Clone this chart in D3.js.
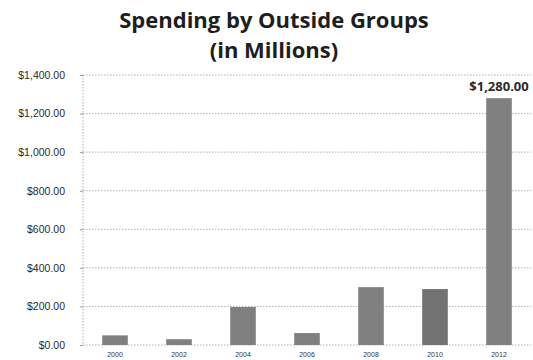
<!DOCTYPE html>
<html>
<head>
<meta charset="utf-8">
<script src="https://cdn.jsdelivr.net/npm/d3@7"></script>
<style>
  body { margin: 0; background: #fff; }
  svg { display: block; }
</style>
</head>
<body>
<div id="chart"></div>
<script>
var years = ['2000', '2002', '2004', '2006', '2008', '2010', '2012'];
var spending = [50, 30, 197, 62, 300, 290, 1280];
var yTicks = [0, 200, 400, 600, 800, 1000, 1200, 1400];
var titleLines = ['Spending by Outside Groups', '(in Millions)'];

var width = 533, height = 360;
var margin = {left: 83, right: 2, top: 75, bottom: 15};

var svg = d3.select('#chart').append('svg')
  .attr('width', width)
  .attr('height', height);

var x = d3.scaleBand()
  .domain(years)
  .range([margin.left, width - margin.right])
  .paddingInner(0.6)
  .paddingOuter(0.3);

var y = d3.scaleLinear()
  .domain([0, 1400])
  .range([height - margin.bottom, margin.top]);

function money(v) {
  return '$' + d3.format(',.2f')(v);
}

// gridlines
svg.append('g')
  .selectAll('line')
  .data(yTicks)
  .enter().append('line')
  .attr('x1', margin.left)
  .attr('x2', width - margin.right)
  .attr('y1', function(d){ return y(d); })
  .attr('y2', function(d){ return y(d); })
  .attr('stroke', '#9a9a9a')
  .attr('stroke-width', 0.8)
  .attr('stroke-dasharray', '1.5,1.5');

// left axis line
svg.append('line')
  .attr('x1', margin.left).attr('x2', margin.left)
  .attr('y1', y(1400)).attr('y2', y(0))
  .attr('stroke', '#9a9a9a')
  .attr('stroke-width', 0.8)
  .attr('stroke-dasharray', '1.5,1.5');

var yAxis = d3.axisLeft(y)
  .tickValues(yTicks)
  .tickSize(3)
  .tickPadding(15)
  .tickFormat(money);

svg.append('g')
  .attr('transform', 'translate(' + margin.left + ',0)')
  .call(yAxis)
  .call(function(g){
    g.select('.domain').remove();
    g.selectAll('.tick line').attr('stroke', '#9a9a9a');
    g.selectAll('text')
      .attr('font-family', 'Liberation Sans, sans-serif')
      .attr('font-size', 10.5)
      .attr('fill', '#2a2a2a');
  });

var xAxis = d3.axisBottom(x).tickSize(0).tickPadding(7);

svg.append('g')
  .attr('transform', 'translate(0,' + y(0) + ')')
  .call(xAxis)
  .call(function(g){
    g.select('.domain').remove();
    g.selectAll('text')
      .attr('font-family', 'Liberation Sans, sans-serif')
      .attr('font-size', 7)
      .attr('fill', '#333');
  });

// bars
svg.append('g')
  .selectAll('rect')
  .data(years)
  .enter().append('rect')
  .attr('x', function(d){ return x(d); })
  .attr('width', x.bandwidth())
  .attr('y', function(d, i){ return y(spending[i]); })
  .attr('height', function(d, i){ return y(0) - y(spending[i]); })
  .attr('fill', function(d){ return d === '2010' ? '#727272' : '#808080'; });

// label on the last bar
var last = years.length - 1;
svg.append('text')
  .attr('x', x(years[last]) + x.bandwidth() / 2)
  .attr('y', y(spending[last]) - 7)
  .attr('text-anchor', 'middle')
  .attr('font-family', 'Open Sans, sans-serif')
  .attr('font-weight', 'bold')
  .attr('font-size', 13)
  .attr('fill', '#2a2a2a')
  .text(money(spending[last]));

// title
svg.append('g')
  .selectAll('text')
  .data(titleLines)
  .enter().append('text')
  .attr('x', 274)
  .attr('y', function(d, i){ return 28 + i * 30; })
  .attr('text-anchor', 'middle')
  .attr('font-family', 'Open Sans, sans-serif')
  .attr('font-weight', 'bold')
  .attr('font-size', 22)
  .attr('fill', '#1e1e1e')
  .text(function(d){ return d; });
</script>
</body>
</html>
